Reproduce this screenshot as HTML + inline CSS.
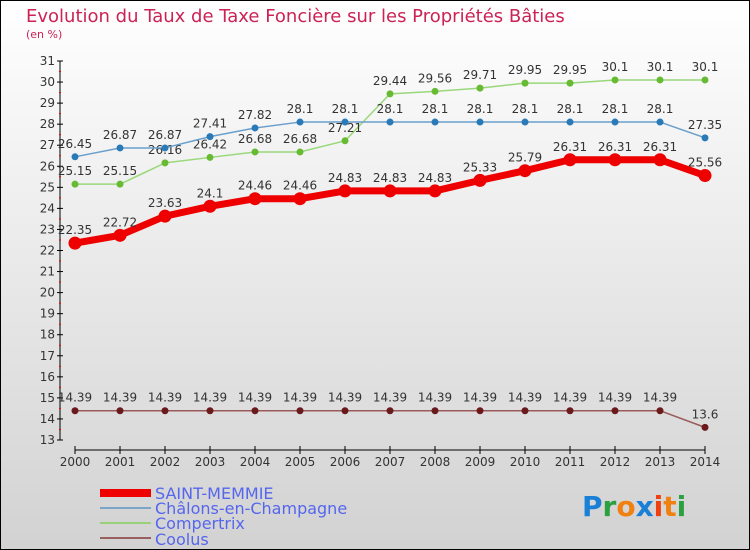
<!DOCTYPE html>
<html><head><meta charset="utf-8"><style>
body{margin:0;width:750px;height:550px;overflow:hidden;font-family:"DejaVu Sans","Liberation Sans",sans-serif;}
svg{display:block}
</style></head><body>
<svg id="chart" width="750" height="550" xmlns="http://www.w3.org/2000/svg">
<defs><linearGradient id="bg" x1="0" y1="0" x2="0" y2="1"><stop offset="0" stop-color="#ffffff"/><stop offset="1" stop-color="#d2d2d2"/></linearGradient></defs>
<rect x="0.5" y="0.5" width="749" height="549" fill="url(#bg)" stroke="#000"/>
<text x="26" y="22" font-size="18" fill="#cc2255">Evolution du Taux de Taxe Foncière sur les Propriétés Bâties</text>
<text x="26" y="38" font-size="11" fill="#cc2255">(en %)</text>
<g id="axes"></g><g id="series"></g>
<g>
<rect x="100" y="489" width="51" height="8" fill="#ee0000"/>
<line x1="100" y1="508" x2="151" y2="508" stroke="#7aa6c8" stroke-width="2"/>
<line x1="100" y1="523" x2="151" y2="523" stroke="#99d07a" stroke-width="2"/>
<line x1="100" y1="538" x2="151" y2="538" stroke="#9a6060" stroke-width="2"/>
<text x="155" y="499" font-size="16" fill="#5566ee">SAINT-MEMMIE</text>
<text x="155" y="514" font-size="16" fill="#5566ee">Châlons-en-Champagne</text>
<text x="155" y="529" font-size="16" fill="#5566ee">Compertrix</text>
<text x="155" y="545" font-size="16" fill="#5566ee">Coolus</text>
</g>
<g font-size="28" font-weight="bold">
<text x="582" y="516"><tspan fill="#1a7fd6">P</tspan><tspan fill="#2aa040">r</tspan><tspan fill="#f08010">o</tspan><tspan fill="#1a7fd6">x</tspan><tspan fill="#f04010">i</tspan><tspan fill="#f08010">t</tspan><tspan fill="#2aa040">i</tspan></text>
</g>
</svg>
<script>
const years=[2000,2001,2002,2003,2004,2005,2006,2007,2008,2009,2010,2011,2012,2013,2014];
const saintMemmie=[22.35,22.72,23.63,24.1,24.46,24.46,24.83,24.83,24.83,25.33,25.79,26.31,26.31,26.31,25.56];
const chalons=[26.45,26.87,26.87,27.41,27.82,28.1,28.1,28.1,28.1,28.1,28.1,28.1,28.1,28.1,27.35];
const compertrix=[25.15,25.15,26.16,26.42,26.68,26.68,27.21,29.44,29.56,29.71,29.95,29.95,30.1,30.1,30.1];
const coolus=[14.39,14.39,14.39,14.39,14.39,14.39,14.39,14.39,14.39,14.39,14.39,14.39,14.39,14.39,13.6];
const yTicks=[13,14,15,16,17,18,19,20,21,22,23,24,25,26,27,28,29,30,31];
const NS="http://www.w3.org/2000/svg";
const x=i=>75+i*45;
const y=v=>440-(v-13)*(379/18);
function mk(tag,attrs,parent,txt){const e=document.createElementNS(NS,tag);for(const k in attrs)e.setAttribute(k,attrs[k]);if(txt!==undefined)e.textContent=txt;parent.appendChild(e);return e;}
const axes=document.getElementById('axes');
mk('line',{x1:60,y1:y(31),x2:60,y2:y(13),stroke:'#000'},axes);
yTicks.forEach(t=>{
  mk('line',{x1:57,y1:y(t),x2:63,y2:y(t),stroke:'#000'},axes);
  if(t<31)mk('line',{x1:59,y1:y(t+0.5),x2:61,y2:y(t+0.5),stroke:'#e00'},axes);
  const l=mk('text',{x:55,y:y(t)+4,'font-size':12,fill:'#333','text-anchor':'end'},axes,t);
  
  
});
mk('line',{x1:x(0),y1:450,x2:x(14),y2:450,stroke:'#000'},axes);
years.forEach((yr,i)=>{
  mk('line',{x1:x(i),y1:446,x2:x(i),y2:454,stroke:'#000'},axes);
  const l=mk('text',{x:x(i),y:466,'font-size':12,fill:'#333','text-anchor':'middle'},axes,yr);
  
  
});
const sg=document.getElementById('series');
function series(name,vals,color,pt,w,r){
  const g=mk('g',{},sg);
  
  
  mk('polyline',{points:vals.map((v,i)=>x(i)+','+y(v)).join(' '),fill:'none',stroke:color,'stroke-width':w,'stroke-linejoin':'round'},g);
  vals.forEach((v,i)=>{
    const c=mk('circle',{cx:x(i),cy:y(v),r:r,fill:pt},g);
    
    
    mk('text',{x:x(i),y:y(v)-9,'font-size':12,fill:'#333','text-anchor':'middle'},g,v);
  });
}
series('coolus-line',coolus,'#9a5a5a','#6a1a1a',1.5,3.5);
series('compertrix-line',compertrix,'#99d87a','#66bb33',1.5,3.5);
series('chalons-line',chalons,'#6a9fcc','#2a7ab8',1.5,3.5);
series('saint-memmie-line',saintMemmie,'#ee0000','#ee0000',7,6.5);
</script>
</body></html>
